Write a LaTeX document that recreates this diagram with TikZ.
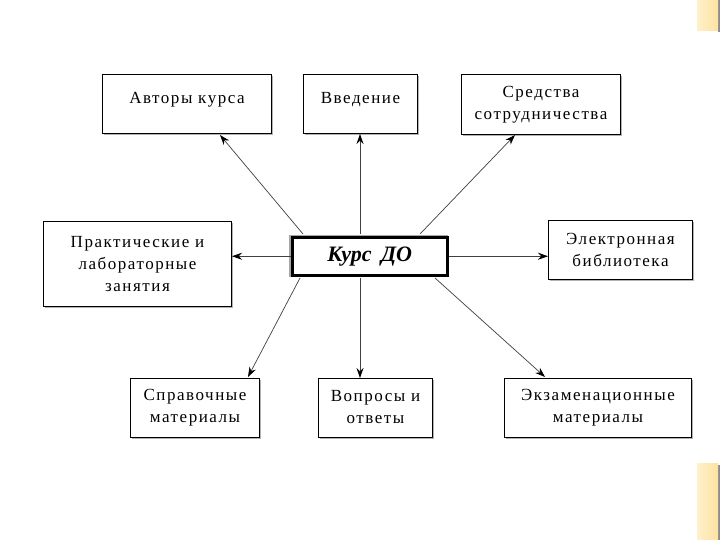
\documentclass[tikz,border=0pt]{standalone}
\usepackage{fontspec}
\setmainfont{Liberation Serif}
\newfontfamily\boxfont[LetterSpace=9]{Liberation Serif}
\usetikzlibrary{arrows.meta}
\definecolor{deco}{RGB}{253,226,160}
\definecolor{decolight}{RGB}{255,240,205}
\tikzset{
  box/.style={draw=black, line width=1pt, fill=white, align=center, inner sep=0pt,
    font=\boxfont\fontsize{17}{22}\selectfont},
  conn/.style={draw=black!75, line width=0.7pt, -{Stealth[length=10pt,width=7pt,color=black]}},
}
\begin{document}
\begin{tikzpicture}[x=1pt,y=-1pt]
\useasboundingbox (0,0) rectangle (720,540);
\fill[white] (0,0) rectangle (720,540);
% decorations
\fill[black!45] (718,0) rectangle (720,32);
\shade[left color=decolight,right color=deco] (697,0) rectangle (718,31);
\fill[black!45] (718,465) rectangle (720,540);
\shade[left color=decolight,right color=deco] (697,463) rectangle (718,540);
% shadows
\foreach \a/\b/\c/\d in {102/74/271/133, 303/74/417/133, 461/74/620/134, 43/221/231/306, 548/220/692/279, 130/378/259/437, 318/378/432/437, 504/378/691/437}{
  \fill[black!30] (\a+2,\b+2) rectangle (\c+2,\d+2);
}
% boxes
\node[box, minimum width=169pt, minimum height=59pt, anchor=north west] (avt) at (102,74) {\raisebox{13pt}{Авторы курса}};
\node[box, minimum width=114pt, minimum height=59pt, anchor=north west] (vved) at (303,74) {\raisebox{13pt}{Введение}};
\node[box, minimum width=159pt, minimum height=60pt, anchor=north west] (sred) at (461,74) {Средства\\сотрудничества};
\node[box, minimum width=188pt, minimum height=85pt, anchor=north west] (prak) at (43,221) {Практические и\\лабораторные\\занятия};
\node[box, minimum width=144pt, minimum height=59pt, anchor=north west] (elek) at (548,220) {Электронная\\библиотека};
\node[box, minimum width=129pt, minimum height=59pt, anchor=north west] (sprav) at (130,378) {Справочные\\материалы};
\node[box, minimum width=114pt, minimum height=59pt, anchor=north west] (vopr) at (318,378) {\raisebox{5pt}{\begin{tabular}{@{}c@{}}Вопросы и\\ответы\end{tabular}}};
\node[box, minimum width=187pt, minimum height=59pt, anchor=north west] (ekz) at (504,378) {Экзаменационные\\материалы};
% center
\fill[black!35] (289,235) rectangle (448,277);
\node[draw=black, line width=2.5pt, fill=white, minimum width=155pt, minimum height=38pt, anchor=north west, inner sep=0pt,
  font=\fontsize{22}{24}\selectfont\bfseries\itshape] (kurs) at (291,236) {Курс\hspace{4pt} ДО};
% connectors
\coordinate (k1) at (303,234);
\coordinate (k2) at (360,234);
\coordinate (k3) at (420,234);
\coordinate (k6) at (300,278);
\coordinate (k7) at (360,278);
\coordinate (k8) at (435,278);
\draw[conn] (k1) -- (220,135);
\draw[conn] (k2) -- (k2 |- vved.south);
\draw[conn] (k3) -- (515,135);
\draw[conn] (kurs.west) -- (prak.east |- kurs.west);
\draw[conn] (kurs.east) -- (elek.west |- kurs.east);
\draw[conn] (k6) -- (248,377);
\draw[conn] (k7) -- (k7 |- vopr.north);
\draw[conn] (k8) -- (545,377);
\end{tikzpicture}
\end{document}
